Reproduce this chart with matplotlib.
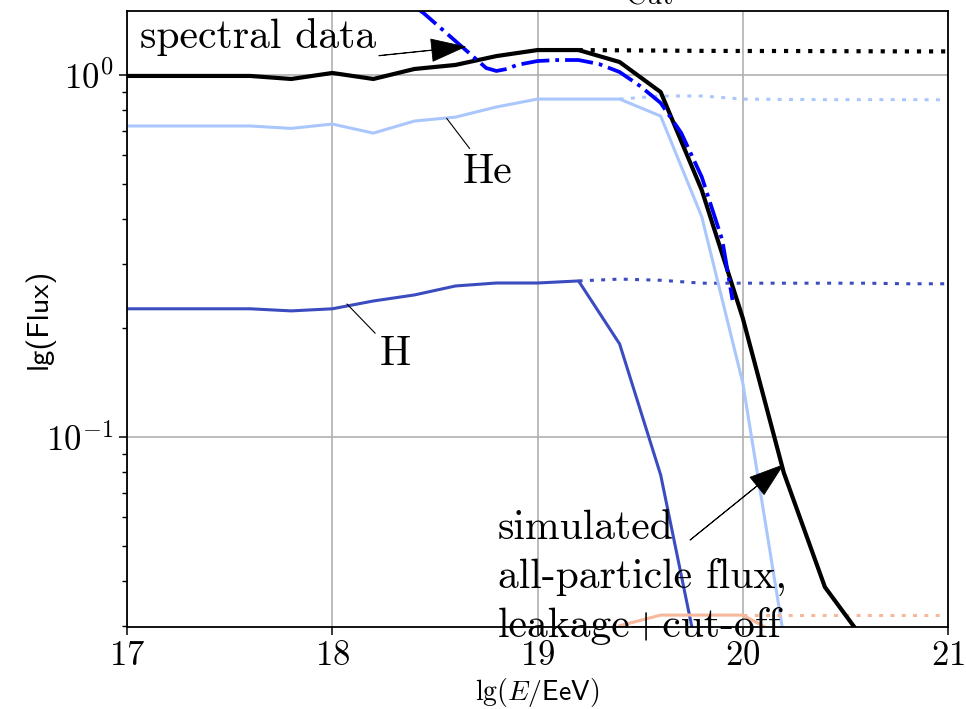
import matplotlib
matplotlib.use("Agg")
import matplotlib.pyplot as plt
from matplotlib.ticker import NullFormatter

plt.rcParams['mathtext.fontset'] = 'cm'
plt.rcParams['font.family'] = ['cmr10', 'DejaVu Serif']
plt.rcParams['axes.formatter.use_mathtext'] = True

# ---------------- data ----------------
lgE_total = [17.0, 17.2, 17.4, 17.6, 17.8, 18.0, 18.2, 18.4, 18.6, 18.8,
             19.0, 19.2, 19.4, 19.6, 19.8, 20.0, 20.2, 20.4, 20.6]
flux_total = [0.994, 0.994, 0.994, 0.994, 0.975, 1.013, 0.975, 1.039, 1.066, 1.128,
              1.172, 1.172, 1.086, 0.897, 0.481, 0.213, 0.0796, 0.0385, 0.027]

lgE_total_nocut = [19.2, 19.4, 19.6, 19.8, 20.0, 20.2, 20.4, 20.6, 20.8, 21.0]
flux_total_nocut = [1.172, 1.170, 1.168, 1.166, 1.165, 1.165, 1.164, 1.163, 1.162, 1.162]

lgE_He = [17.0, 17.2, 17.4, 17.6, 17.8, 18.0, 18.2, 18.4, 18.6, 18.8,
          19.0, 19.2, 19.4, 19.6, 19.8, 20.0, 20.2, 20.4]
flux_He = [0.723, 0.723, 0.723, 0.723, 0.712, 0.732, 0.691, 0.746, 0.765, 0.816,
           0.858, 0.858, 0.858, 0.770, 0.406, 0.141, 0.028, 0.004]
lgE_He_nocut = [19.4, 19.6, 19.8, 20.0, 20.2, 20.4, 20.6, 20.8, 21.0]
flux_He_nocut = [0.858, 0.875, 0.875, 0.858, 0.856, 0.855, 0.855, 0.855, 0.854]

lgE_H = [17.0, 17.2, 17.4, 17.6, 17.8, 18.0, 18.2, 18.4, 18.6, 18.8,
         19.0, 19.2, 19.4, 19.6, 19.8, 20.0]
flux_H = [0.226, 0.226, 0.226, 0.226, 0.223, 0.226, 0.2375, 0.2468, 0.2613, 0.2663,
          0.2663, 0.2698, 0.1807, 0.0785, 0.022, 0.004]
lgE_H_nocut = [19.2, 19.4, 19.6, 19.8, 20.0, 20.2, 20.4, 20.6, 20.8, 21.0]
flux_H_nocut = [0.2698, 0.273, 0.271, 0.266, 0.266, 0.266, 0.266, 0.266, 0.265, 0.265]

lgE_N = [19.0, 19.2, 19.4, 19.6, 19.8, 20.0, 20.2, 20.4]
flux_N = [0.010, 0.018, 0.0301, 0.0322, 0.0322, 0.0322, 0.028, 0.010]
lgE_N_nocut = [20.0, 20.2, 20.4, 20.6, 20.8, 21.0]
flux_N_nocut = [0.0322, 0.0322, 0.0322, 0.0322, 0.0322, 0.0322]

lgE_data = [18.4, 18.45, 18.5, 18.6, 18.7, 18.75, 18.8, 18.85, 18.9, 19.0,
            19.1, 19.2, 19.3, 19.4, 19.5, 19.6, 19.7, 19.8, 19.9, 19.95]
flux_data = [1.55, 1.474, 1.392, 1.241, 1.107, 1.045, 1.026, 1.039, 1.066, 1.093,
             1.100, 1.100, 1.072, 1.019, 0.932, 0.837, 0.692, 0.523, 0.350, 0.239]

xticks = [17, 18, 19, 20, 21]

# ---------------- figure ----------------
fig = plt.figure(figsize=(9.66, 7.09), dpi=100)
ax = fig.add_axes([0.1315, 0.1157, 0.8499, 0.8688])

cmap = plt.get_cmap('coolwarm')
c_H, c_He, c_N = cmap(0.0), cmap(1 / 3), cmap(2 / 3)

ax.plot(lgE_H, flux_H, color=c_H, lw=2.2)
ax.plot(lgE_H_nocut, flux_H_nocut, color=c_H, lw=2.2, linestyle=(0, (1.3, 2.4)))
ax.plot(lgE_He, flux_He, color=c_He, lw=2.2)
ax.plot(lgE_He_nocut, flux_He_nocut, color=c_He, lw=2.2, linestyle=(0, (1.3, 2.4)))
ax.plot(lgE_N, flux_N, color=c_N, lw=2.2)
ax.plot(lgE_N_nocut, flux_N_nocut, color=c_N, lw=2.2, linestyle=(0, (1.3, 2.4)))
ax.plot(lgE_total, flux_total, color='black', lw=3)
ax.plot(lgE_total_nocut, flux_total_nocut, color='black', lw=3, linestyle=(0, (1, 1.9)))
ax.plot(lgE_data, flux_data, color='blue', lw=2.7, linestyle=(0, (7.5, 1.6, 1, 1.6)))

ax.set_yscale('log')
ax.set_xlim(17, 21)
ax.set_ylim(0.02986, 1.5026)
ax.set_xticks(xticks)
ax.yaxis.set_minor_formatter(NullFormatter())
ax.grid(True, which='major', color='#b0b0b0', lw=1.2)

ax.tick_params(which='major', length=5.5, width=1.1, labelsize=25, pad=4)
ax.tick_params(which='minor', length=3.5, width=1.0)
for s in ax.spines.values():
    s.set_linewidth(1.3)

ax.set_xlabel(r'$\mathrm{lg}(E/\mathsf{EeV})$', fontsize=20, labelpad=3)
ax.set_ylabel('lg(Flux)', fontsize=22, family='cmss10')
ax.yaxis.set_label_coords(-0.088, 0.5)
ax.set_title('Cut', x=0.636, pad=5, fontsize=21)

# ---------------- annotations ----------------
head = dict(facecolor='black', edgecolor='black', lw=0.6, width=0.3,
            headwidth=16, headlength=24, shrink=0)
ax.annotate('spectral data', xy=(18.647, 1.197), xycoords='data',
            xytext=(0.0158, 0.94), textcoords='axes fraction',
            ha='left', va='baseline', fontsize=30, arrowprops=head)
ax.annotate('He', xy=(18.549, 0.770), xycoords='data',
            xytext=(0.409, 0.7208), textcoords='axes fraction',
            ha='left', va='baseline', fontsize=30,
            arrowprops=dict(arrowstyle='-', color='black', lw=0.8))
ax.annotate('H', xy=(18.062, 0.236), xycoords='data',
            xytext=(0.308, 0.4253), textcoords='axes fraction',
            ha='left', va='baseline', fontsize=30,
            arrowprops=dict(arrowstyle='-', color='black', lw=0.8))
ax.annotate('', xy=(20.196, 0.0837), xycoords='data',
            xytext=(19.743, 0.0519), textcoords='data', arrowprops=head)
ax.text(0.452, 0.19, 'simulated\nall-particle flux,\nleakage+cut-off',
        transform=ax.transAxes, ha='left', va='top', fontsize=30,
        linespacing=1.36)

fig.savefig('out.png', dpi=100)
